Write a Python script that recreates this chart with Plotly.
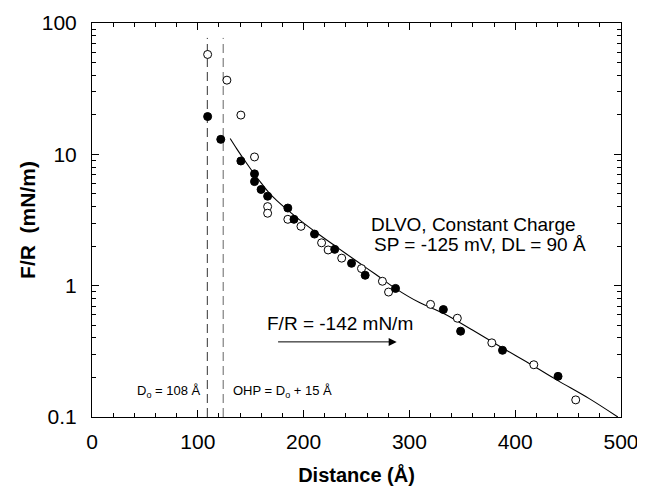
import plotly.graph_objects as go

# Filled circles
filled_x = [109.3, 121.7, 140.7, 153.6, 153.6, 159.8, 166.0, 185.1, 190.9, 210.3,
            229.4, 245.3, 258.2, 286.9, 332.1, 348.4, 388.0, 440.5]
filled_y = [19.4, 13.0, 8.9, 7.1, 6.2, 5.4, 4.8, 3.9, 3.2, 2.47,
            1.89, 1.48, 1.20, 0.953, 0.658, 0.450, 0.322, 0.204]

# Open circles
open_x = [109.3, 127.5, 140.7, 153.6, 166.0, 166.0, 185.1, 197.5, 217.0, 223.2,
          236.0, 254.7, 274.5, 280.3, 320.0, 345.3, 377.9, 417.6, 457.2]
open_y = [57.6, 36.7, 19.9, 9.55, 4.0, 3.56, 3.2, 2.83, 2.12, 1.87,
          1.62, 1.35, 1.08, 0.894, 0.72, 0.565, 0.367, 0.25, 0.135]

# DLVO theory curve
curve_x = [130.6, 137, 145, 152.5, 160, 167, 175, 185, 198, 212, 230, 250, 268,
           287, 310, 332, 360, 388, 415, 440, 470, 497]
curve_y = [13.2, 10.96, 8.81, 7.24, 6.03, 5.13, 4.42, 3.76, 3.09, 2.54, 2.0, 1.54,
           1.22, 0.95, 0.74, 0.617, 0.457, 0.335, 0.251, 0.19, 0.138, 0.1]

# Reference lines (D0 and OHP)
d0_x = 109
ohp_x = 124
ref_line_y = [0.1, 77]

y_tickvals = [0.1, 1, 10, 100]
y_ticktext = ["0.1", "1", "10", "100"]
x_tickvals = [0, 100, 200, 300, 400, 500]

FONT = "Liberation Sans, Arial, Helvetica, sans-serif"

fig = go.Figure()

fig.add_trace(go.Scatter(x=[d0_x, d0_x], y=ref_line_y, mode="lines",
                         line=dict(color="#333333", width=1, dash="9px,5px"),
                         showlegend=False, hoverinfo="skip"))
fig.add_trace(go.Scatter(x=[ohp_x, ohp_x], y=ref_line_y, mode="lines",
                         line=dict(color="#666666", width=1, dash="9px,5px"),
                         showlegend=False, hoverinfo="skip"))

fig.add_trace(go.Scatter(x=curve_x, y=curve_y, mode="lines",
                         line=dict(color="black", width=1.1, shape="spline"),
                         showlegend=False))

fig.add_trace(go.Scatter(x=open_x, y=open_y, mode="markers",
                         marker=dict(symbol="circle", size=8, color="white",
                                     line=dict(color="black", width=1)),
                         showlegend=False))
fig.add_trace(go.Scatter(x=filled_x, y=filled_y, mode="markers",
                         marker=dict(symbol="circle", size=8, color="black",
                                     line=dict(color="black", width=1)),
                         showlegend=False))

ann_font = dict(family=FONT, size=19, color="black")
small_font = dict(family=FONT, size=13, color="black")

fig.add_annotation(x=261.8, y=0.463, xref="x", yref="y", text="DLVO, Constant Charge",
                   showarrow=False, xanchor="left", yanchor="middle", font=ann_font)
fig.add_annotation(x=264.7, y=0.311, xref="x", yref="y", text="SP = -125 mV, DL = 90 Å",
                   showarrow=False, xanchor="left", yanchor="middle", font=ann_font)
fig.add_annotation(x=163.5, y=-0.29, xref="x", yref="y", text="F/R = -142 mN/m",
                   showarrow=False, xanchor="left", yanchor="middle", font=ann_font)
fig.add_annotation(x=288, y=-0.428, ax=174, ay=-0.428, xref="x", yref="y",
                   axref="x", ayref="y", text=" ", showarrow=True,
                   arrowhead=2, arrowsize=1.6, arrowwidth=1, arrowcolor="black",
                   font=dict(size=2))
fig.add_annotation(x=72.8, y=-0.808, xref="x", yref="y", text="D<sub>o</sub> = 108 Å",
                   showarrow=False, xanchor="center", yanchor="middle", font=small_font)
fig.add_annotation(x=180.5, y=-0.808, xref="x", yref="y", text="OHP = D<sub>o</sub> + 15 Å",
                   showarrow=False, xanchor="center", yanchor="middle", font=small_font)

# y-axis title placed as a rotated annotation
fig.add_annotation(x=-0.123, y=0.5, xref="paper", yref="paper",
                   text="<b>F/R  (mN/m)</b>", textangle=-90, showarrow=False,
                   xanchor="center", yanchor="middle",
                   font=dict(family=FONT, size=21, color="black"))

# page body has an 8px margin: size and offset the figure to compensate
fig.update_layout(
    width=637, height=478,
    margin=dict(l=84, r=24, t=15, b=69),
    paper_bgcolor="white", plot_bgcolor="white",
    font=dict(family=FONT, color="black"),
    showlegend=False,
)

fig.update_xaxes(
    range=[0, 500], tickvals=x_tickvals, automargin=False,
    showline=True, linecolor="black", linewidth=1, mirror="ticks",
    ticks="inside", ticklen=7, tickwidth=1, tickcolor="black",
    minor=dict(ticks="inside", ticklen=4, dtick=20, tickcolor="black", showgrid=False),
    showgrid=False, zeroline=False,
    tickfont=dict(family=FONT, size=21), ticklabelstandoff=6,
    title=dict(text="<b>Distance (Å)</b>", font=dict(family=FONT, size=20), standoff=17),
)
fig.update_yaxes(
    type="log", range=[-1, 2], tickvals=y_tickvals, ticktext=y_ticktext, automargin=False,
    showline=True, linecolor="black", linewidth=1, mirror="ticks",
    ticks="inside", ticklen=7, tickwidth=1, tickcolor="black",
    minor=dict(ticks="inside", ticklen=4, dtick="D1", tickcolor="black", showgrid=False),
    showgrid=False, zeroline=False,
    tickfont=dict(family=FONT, size=21), ticklabelstandoff=10,
)

fig.write_html("out.html")
